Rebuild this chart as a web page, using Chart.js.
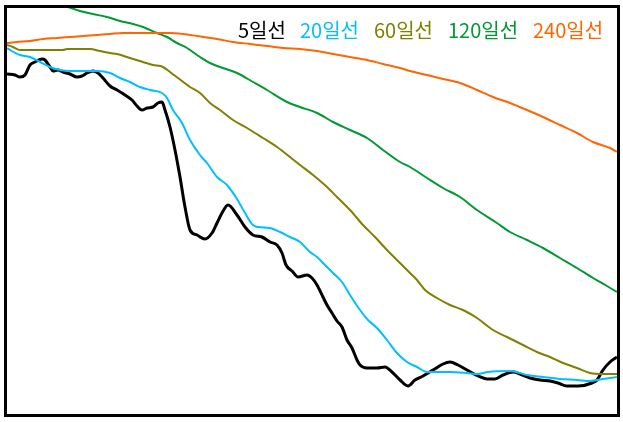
<!DOCTYPE html>
<html lang="ko">
<head>
<meta charset="utf-8">
<script src="https://cdn.jsdelivr.net/npm/chart.js@4/dist/chart.umd.min.js"></script>
<style>
  html, body { margin: 0; padding: 0; background: #fff; }
  #wrap { position: relative; width: 623px; height: 422px; }
  #legend span {
    position: absolute; top: 19px; line-height: 22px; white-space: nowrap;
    font-family: "Noto Sans CJK KR", "Noto Sans", sans-serif; font-size: 20px;
  }
</style>
</head>
<body>
<div id="wrap">
  <canvas id="maChart" width="623" height="422"></canvas>
  <div id="legend"></div>
</div>
<script>
// 이동평균선 — 값은 그림에서 읽은 추정치 (x: 거래일 위치, y: 가격 지수)
const ma5X = [0,8,13,18,23,28,35,38,43,46,51,56,63,70,75,80,86,91,96,103,110,118,125,130,135,140,146,151,155,158,163,168,173,178,183,190,198,205,210,215,221,230,238,246,255,263,270,275,279,285,291,300,305,310,316,320,325,330,335,340,345,350,353,360,370,378,385,393,401,408,416,426,436,443,451,460,471,480,488,496,506,513,523,533,543,551,560,571,585,590,596,603,610];
const ma5 = [340,339,337,339,349,352,355,354,347,343,344,342,340,337,338,341,343,341,336,328,324,319,314,308,304,306,307,311,312,304,287,264,237,207,184,179,175,181,191,201,209,199,187,179,177,172,169,161,149,143,137,139,136,129,117,109,101,93,87,74,66,54,49,46,46,47,42,34,28,34,38,44,50,52,49,44,38,35,35,39,42,40,36,34,33,31,28,28,31,34,44,52,57];

const ma20X = [0,3,13,23,33,43,53,63,90,103,113,123,133,143,155,160,166,175,183,193,200,210,220,230,238,246,251,263,273,283,293,303,310,318,326,335,343,353,361,370,380,390,400,410,420,443,460,470,481,503,520,536,553,570,583,596,610];
const ma20 = [366,364,359,357,352,347,344,343,343,341,336,332,327,324,321,316,304,291,274,259,251,237,229,215,201,189,187,186,182,177,172,162,157,149,141,132,119,104,94,86,74,61,52,47,42,42,41,40,42,43,39,37,35,34,33,35,37];

const ma60X = [0,6,13,56,60,83,93,103,110,120,126,136,146,156,163,171,183,193,203,213,226,240,256,270,283,293,306,320,330,343,356,368,380,393,403,410,418,430,443,456,470,486,500,516,530,543,556,570,583,596,610];
const ma60 = [369,367,364,364,365,365,363,361,360,357,355,352,349,347,342,336,327,321,311,304,294,286,276,267,257,249,239,227,217,204,189,177,164,151,141,134,124,116,109,104,96,84,77,69,62,57,51,46,41,40,40];

const ma120X = [0,33,61,73,86,100,113,126,136,150,160,170,180,193,203,216,230,246,260,280,293,310,326,343,360,376,393,403,420,436,453,470,490,503,520,536,553,570,586,600,610];
const ma120 = [424,415,407,403,400,397,393,390,387,381,377,371,366,357,351,346,341,332,324,312,307,301,292,284,276,264,252,247,236,226,217,204,191,182,174,166,156,146,136,128,122];

const ma240X = [0,10,23,36,50,63,76,90,103,116,150,163,176,190,210,226,243,260,276,293,310,326,343,360,376,393,403,420,436,453,470,486,503,520,536,553,570,586,603,610];
const ma240 = [371,372,373,375,376,377,378,379,380,381,381,381,380,378,375,372,370,368,366,365,363,360,357,354,350,346,343,339,335,331,324,317,311,304,297,289,281,272,266,262];

const seriesNames = ['5일선', '20일선', '60일선', '120일선', '240일선'];
const seriesColors = ['#000000', '#00bfff', '#808000', '#009933', '#ff6600'];
const legendLeft = [238, 300, 374, 448, 533];

const xMax = 610;
const yMin = 0, yMax = 406;

function toPoints(xs, ys) {
  return xs.map((x, i) => ({ x: x, y: ys[i] }));
}

const lineSets = [
  [ma5X, ma5, 3],
  [ma20X, ma20, 2],
  [ma60X, ma60, 2],
  [ma120X, ma120, 2],
  [ma240X, ma240, 2],
];

// 테두리 박스
const frame = {
  id: 'frame',
  afterDraw(chart) {
    const a = chart.chartArea, c = chart.ctx;
    c.save();
    c.strokeStyle = '#000';
    c.lineWidth = 3;
    c.strokeRect(a.left - 1.5, a.top - 1.5, a.right - a.left + 3, a.bottom - a.top + 3);
    c.restore();
  }
};

new Chart(document.getElementById('maChart'), {
  type: 'line',
  data: {
    datasets: lineSets.map(([xs, ys, w], i) => ({
      label: seriesNames[i],
      data: toPoints(xs, ys),
      borderColor: seriesColors[i],
      borderWidth: w,
      pointRadius: 0,
      cubicInterpolationMode: 'monotone',
      fill: false,
    })).reverse()
  },
  options: {
    responsive: false,
    animation: false,
    devicePixelRatio: 1,
    layout: { padding: { left: 7, right: 6, top: 8, bottom: 8 } },
    plugins: { legend: { display: false }, tooltip: { enabled: false } },
    scales: {
      x: { type: 'linear', min: 0, max: xMax, display: false },
      y: { min: yMin, max: yMax, display: false }
    }
  },
  plugins: [frame]
});

// 범례 (오른쪽 위, 색 글자)
const legend = document.getElementById('legend');
seriesNames.forEach((name, i) => {
  const s = document.createElement('span');
  s.textContent = name;
  s.style.color = seriesColors[i];
  s.style.left = legendLeft[i] + 'px';
  legend.appendChild(s);
});
</script>
</body>
</html>
